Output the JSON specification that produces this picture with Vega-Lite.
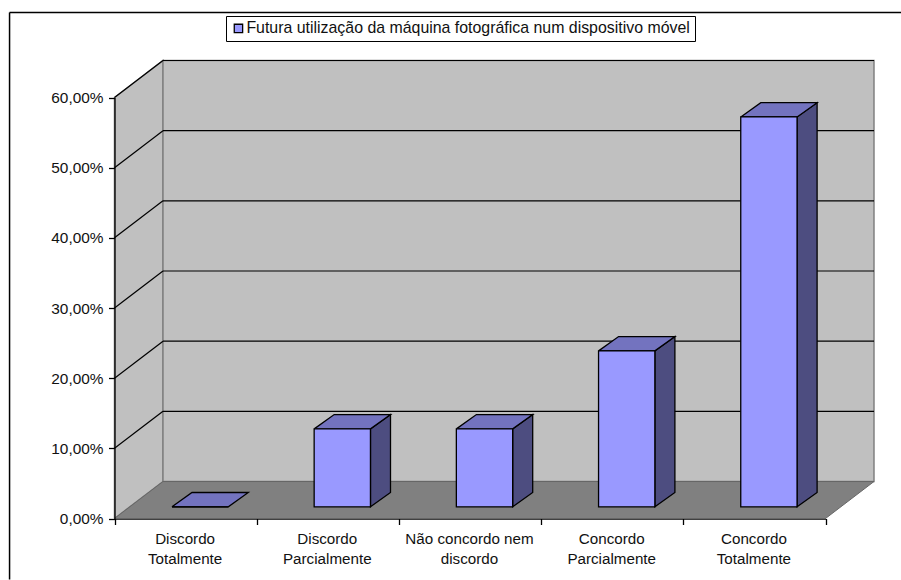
{
"$schema":"https://vega.github.io/schema/vega-lite/v6.json",
"width":901,"height":580,"autosize":"none","padding":0,"background":"white",
"config":{"view":{"stroke":null},"font":"Liberation Sans"},
"datasets":{
"barras":[
{"categoria":"Discordo Totalmente","valor":0},
{"categoria":"Discordo Parcialmente","valor":11.11},
{"categoria":"Não concordo nem discordo","valor":11.11},
{"categoria":"Concordo Parcialmente","valor":22.22},
{"categoria":"Concordo Totalmente","valor":55.56}],
"faces":[
{"categoria":"Discordo Totalmente","face":"topo","altura":0,"canto":0,"ordem":0},{"categoria":"Discordo Totalmente","face":"topo","altura":0,"canto":2,"ordem":1},{"categoria":"Discordo Totalmente","face":"topo","altura":0,"canto":3,"ordem":2},{"categoria":"Discordo Totalmente","face":"topo","altura":0,"canto":1,"ordem":3},{"categoria":"Discordo Totalmente","face":"topo","altura":0,"canto":0,"ordem":4},
{"categoria":"Discordo Parcialmente","face":"topo","altura":11.11,"canto":0,"ordem":0},{"categoria":"Discordo Parcialmente","face":"topo","altura":11.11,"canto":2,"ordem":1},{"categoria":"Discordo Parcialmente","face":"topo","altura":11.11,"canto":3,"ordem":2},{"categoria":"Discordo Parcialmente","face":"topo","altura":11.11,"canto":1,"ordem":3},{"categoria":"Discordo Parcialmente","face":"topo","altura":11.11,"canto":0,"ordem":4},
{"categoria":"Não concordo nem discordo","face":"topo","altura":11.11,"canto":0,"ordem":0},{"categoria":"Não concordo nem discordo","face":"topo","altura":11.11,"canto":2,"ordem":1},{"categoria":"Não concordo nem discordo","face":"topo","altura":11.11,"canto":3,"ordem":2},{"categoria":"Não concordo nem discordo","face":"topo","altura":11.11,"canto":1,"ordem":3},{"categoria":"Não concordo nem discordo","face":"topo","altura":11.11,"canto":0,"ordem":4},
{"categoria":"Concordo Parcialmente","face":"topo","altura":22.22,"canto":0,"ordem":0},{"categoria":"Concordo Parcialmente","face":"topo","altura":22.22,"canto":2,"ordem":1},{"categoria":"Concordo Parcialmente","face":"topo","altura":22.22,"canto":3,"ordem":2},{"categoria":"Concordo Parcialmente","face":"topo","altura":22.22,"canto":1,"ordem":3},{"categoria":"Concordo Parcialmente","face":"topo","altura":22.22,"canto":0,"ordem":4},
{"categoria":"Concordo Totalmente","face":"topo","altura":55.56,"canto":0,"ordem":0},{"categoria":"Concordo Totalmente","face":"topo","altura":55.56,"canto":2,"ordem":1},{"categoria":"Concordo Totalmente","face":"topo","altura":55.56,"canto":3,"ordem":2},{"categoria":"Concordo Totalmente","face":"topo","altura":55.56,"canto":1,"ordem":3},{"categoria":"Concordo Totalmente","face":"topo","altura":55.56,"canto":0,"ordem":4},
{"categoria":"Discordo Parcialmente","face":"lado","altura":11.11,"canto":2,"ordem":0},{"categoria":"Discordo Parcialmente","face":"lado","altura":11.11,"canto":3,"ordem":1},{"categoria":"Discordo Parcialmente","face":"lado","altura":0,"canto":3,"ordem":2},{"categoria":"Discordo Parcialmente","face":"lado","altura":0,"canto":2,"ordem":3},{"categoria":"Discordo Parcialmente","face":"lado","altura":11.11,"canto":2,"ordem":4},
{"categoria":"Não concordo nem discordo","face":"lado","altura":11.11,"canto":2,"ordem":0},{"categoria":"Não concordo nem discordo","face":"lado","altura":11.11,"canto":3,"ordem":1},{"categoria":"Não concordo nem discordo","face":"lado","altura":0,"canto":3,"ordem":2},{"categoria":"Não concordo nem discordo","face":"lado","altura":0,"canto":2,"ordem":3},{"categoria":"Não concordo nem discordo","face":"lado","altura":11.11,"canto":2,"ordem":4},
{"categoria":"Concordo Parcialmente","face":"lado","altura":22.22,"canto":2,"ordem":0},{"categoria":"Concordo Parcialmente","face":"lado","altura":22.22,"canto":3,"ordem":1},{"categoria":"Concordo Parcialmente","face":"lado","altura":0,"canto":3,"ordem":2},{"categoria":"Concordo Parcialmente","face":"lado","altura":0,"canto":2,"ordem":3},{"categoria":"Concordo Parcialmente","face":"lado","altura":22.22,"canto":2,"ordem":4},
{"categoria":"Concordo Totalmente","face":"lado","altura":55.56,"canto":2,"ordem":0},{"categoria":"Concordo Totalmente","face":"lado","altura":55.56,"canto":3,"ordem":1},{"categoria":"Concordo Totalmente","face":"lado","altura":0,"canto":3,"ordem":2},{"categoria":"Concordo Totalmente","face":"lado","altura":0,"canto":2,"ordem":3},{"categoria":"Concordo Totalmente","face":"lado","altura":55.56,"canto":2,"ordem":4}
],
"paredes":[
{"parede":"esquerda","x":0,"y":0,"ordem":0},{"parede":"esquerda","x":0,"y":60,"ordem":1},{"parede":"esquerda","x":0.341,"y":65.27,"ordem":2},{"parede":"esquerda","x":0.341,"y":5.27,"ordem":3},{"parede":"esquerda","x":0,"y":0,"ordem":4},
{"parede":"fundo","x":0.341,"y":5.27,"ordem":0},{"parede":"fundo","x":0.341,"y":65.27,"ordem":1},{"parede":"fundo","x":5.341,"y":65.27,"ordem":2},{"parede":"fundo","x":5.341,"y":5.27,"ordem":3},{"parede":"fundo","x":0.341,"y":5.27,"ordem":4},
{"parede":"chao","x":0,"y":0,"ordem":0},{"parede":"chao","x":0.341,"y":5.27,"ordem":1},{"parede":"chao","x":5.341,"y":5.27,"ordem":2},{"parede":"chao","x":5,"y":0,"ordem":3},{"parede":"chao","x":0,"y":0,"ordem":4}
],
"grade":[{"pct":10},{"pct":20},{"pct":30},{"pct":40},{"pct":50},{"pct":60}]
},
"resolve":{"scale":{"x":"independent"}},
"layer":[
{"data":{"name":"paredes"},"transform":[{"filter":"datum.parede!='chao'"}],
 "mark":{"type":"line","filled":true,"fill":"#C0C0C0","stroke":"#808080","strokeWidth":1.5,"clip":false},
 "encoding":{"x":{"field":"x","type":"quantitative","axis":null,"scale":{"domain":[0,5],"range":[114.5,825.5],"nice":false,"zero":false}},
  "y":{"field":"y","type":"quantitative","scale":{"domain":[0,60],"range":[518.5,97.5],"nice":false},
   "axis":{"title":null,"orient":"left","offset":-114.5,"zindex":1,"values":[0,10,20,30,40,50,60],"tickSize":6,"tickColor":"black","domainColor":"black","domainWidth":1.3,"tickWidth":1.3,"grid":false,"labelPadding":5.5,"labelFont":"Liberation Sans","labelFontSize":15.4,"labelColor":"#111111","labelExpr":"replace(format(datum.value,'.2f'),'.',',')+'%'"}},
  "detail":{"field":"parede"},"order":{"field":"ordem"}}},
{"data":{"name":"paredes"},"transform":[{"filter":"datum.parede=='chao'"}],
 "mark":{"type":"line","filled":true,"fill":"#808080","stroke":"#666666","strokeWidth":1},
 "encoding":{"x":{"field":"x","type":"quantitative","axis":null,"scale":{"domain":[0,5],"range":[114.5,825.5],"nice":false,"zero":false}},
  "y":{"field":"y","type":"quantitative"},
  "detail":{"field":"parede"},"order":{"field":"ordem"}}},
{"data":{"name":"grade"},
 "mark":{"type":"rule","color":"black","strokeWidth":1.2,"xOffset":48.5,"x2Offset":48.5,"yOffset":-37,"y2Offset":-37},
 "encoding":{"x":{"datum":0,"type":"quantitative","axis":null,"scale":{"domain":[0,5],"range":[114.5,825.5],"nice":false,"zero":false}},"x2":{"datum":5},
  "y":{"field":"pct","type":"quantitative"},"y2":{"field":"pct"}}},
{"data":{"name":"grade"},
 "mark":{"type":"rule","color":"black","strokeWidth":1.2,"x2Offset":48.5,"y2Offset":-37},
 "encoding":{"x":{"datum":0,"type":"quantitative","axis":null,"scale":{"domain":[0,5],"range":[114.5,825.5],"nice":false,"zero":false}},"x2":{"datum":0},
  "y":{"field":"pct","type":"quantitative"},"y2":{"field":"pct"}}},
{"data":{"name":"faces"},"transform":[{"filter":"datum.face=='lado'"},{"calculate":"datum.altura+(datum.canto%2==1?3.705:1.667)","as":"nivel"}],
 "mark":{"type":"line","filled":true,"fill":"#4D4D80","stroke":"black","strokeWidth":1.3},
 "encoding":{"x":{"field":"categoria","type":"nominal","axis":null,"sort":null,"scale":{"type":"band","domain":["Discordo Totalmente","Discordo Parcialmente","Não concordo nem discordo","Concordo Parcialmente","Concordo Totalmente"],"range":[114.5,825.5],"paddingInner":0,"paddingOuter":0},"bandPosition":0},
  "xOffset":{"field":"canto","type":"quantitative","scale":{"domain":[0,1,2,3],"range":[57.5,77.5,113.8,133.8]}},
  "y":{"field":"nivel","type":"quantitative"},
  "detail":{"field":"categoria"},"order":{"field":"ordem"}}},
{"data":{"name":"faces"},"transform":[{"filter":"datum.face=='topo'"},{"calculate":"datum.altura+(datum.canto%2==1?3.705:1.667)","as":"nivel"}],
 "mark":{"type":"line","filled":true,"fill":"#7373BF","stroke":"black","strokeWidth":1.3},
 "encoding":{"x":{"field":"categoria","type":"nominal","axis":null,"sort":null,"scale":{"type":"band","domain":["Discordo Totalmente","Discordo Parcialmente","Não concordo nem discordo","Concordo Parcialmente","Concordo Totalmente"],"range":[114.5,825.5],"paddingInner":0,"paddingOuter":0},"bandPosition":0},
  "xOffset":{"field":"canto","type":"quantitative","scale":{"domain":[0,1,2,3],"range":[57.5,77.5,113.8,133.8]}},
  "y":{"field":"nivel","type":"quantitative"},
  "detail":{"field":"categoria"},"order":{"field":"ordem"}}},
{"data":{"name":"barras"},
 "mark":{"type":"bar","width":56.3,"xOffset":14.5,"yOffset":-11.7,"y2Offset":-11.7,"stroke":"black","strokeWidth":1.3},
 "encoding":{"x":{"field":"categoria","type":"nominal","sort":null,"scale":{"type":"band","domain":["Discordo Totalmente","Discordo Parcialmente","Não concordo nem discordo","Concordo Parcialmente","Concordo Totalmente"],"range":[114.5,825.5],"paddingInner":0,"paddingOuter":0},
   "axis":{"title":null,"orient":"bottom","offset":-61.5,"tickBand":"extent","tickSize":6,"tickColor":"black","tickWidth":1.3,"domainColor":"black","domainWidth":1.3,"labelAngle":0,"labelAlign":"center","labelBaseline":"top","labelPadding":7,"labelOffset":-1,"labelFont":"Liberation Sans","labelFontSize":15.2,"labelColor":"#111111","labelLineHeight":20,"labelLimit":200,"labelExpr":"!datum.value?'':datum.value=='Não concordo nem discordo'?['Não concordo nem','discordo']:split(datum.value,' ')"}},
  "y":{"field":"valor","type":"quantitative"},
  "color":{"datum":"Futura utilização da máquina fotográfica num dispositivo móvel","type":"nominal","scale":{"range":["#9999FF"]},
   "legend":{"title":null,"orient":"none","legendX":226,"legendY":16,"fillColor":"white","strokeColor":"black","symbolType":"square","symbolSize":70,"symbolStrokeColor":"black","symbolStrokeWidth":1.3,"labelFont":"Liberation Sans","labelFontSize":15.9,"labelColor":"#111111","labelLimit":600,"labelOffset":0,"padding":4.5}}}},
{"data":{"values":[{"v":1}]},
 "mark":{"type":"rule","color":"black","strokeWidth":1.5},
 "encoding":{"x":{"datum":-0.738,"type":"quantitative","axis":null,"scale":{"domain":[0,5],"range":[114.5,825.5],"nice":false,"zero":false}},"x2":{"datum":5.7},
  "y":{"datum":72.1,"type":"quantitative"}}},
{"data":{"values":[{"v":1}]},
 "mark":{"type":"rule","color":"black","strokeWidth":1.5},
 "encoding":{"x":{"datum":-0.738,"type":"quantitative","axis":null,"scale":{"domain":[0,5],"range":[114.5,825.5],"nice":false,"zero":false}},
  "y":{"datum":72.1,"type":"quantitative"},"y2":{"datum":-8.7}}}
]
}
